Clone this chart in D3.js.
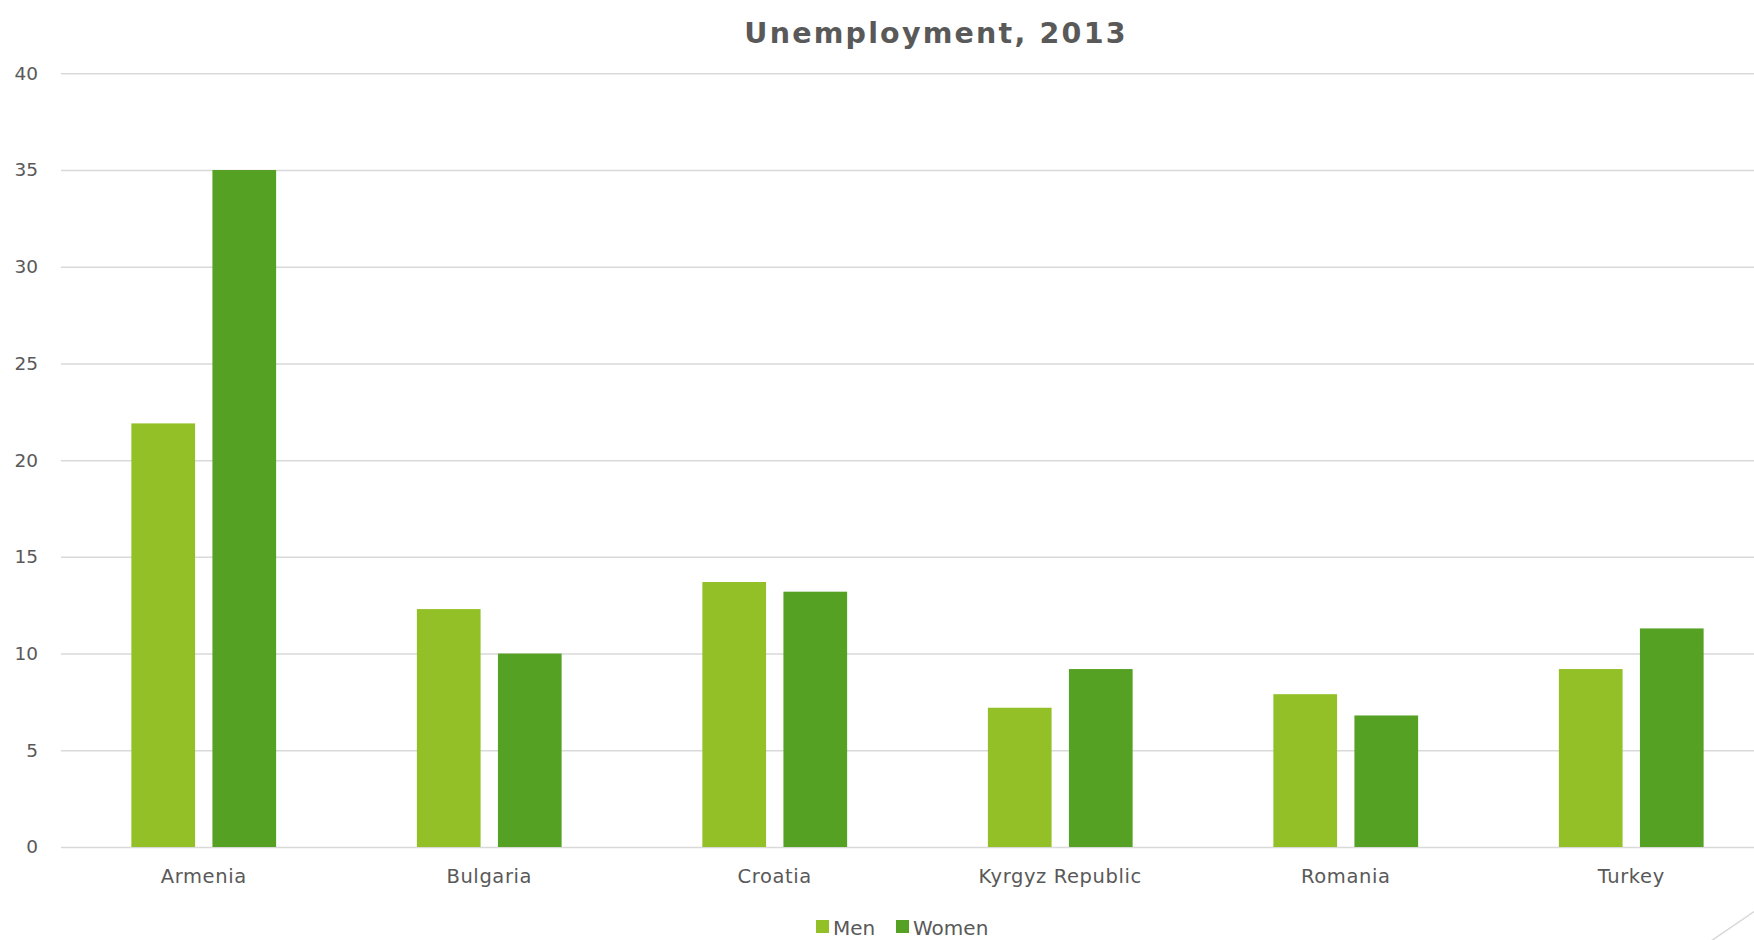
<!DOCTYPE html>
<html>
<head>
<meta charset="utf-8">
<script src="https://cdn.jsdelivr.net/npm/d3@7"></script>
<style>
  html, body { margin: 0; padding: 0; background: #fff; overflow: hidden; }
  svg { display: block; }
  text { font-family: "DejaVu Sans", sans-serif; fill: #595959; }
</style>
</head>
<body>
<svg id="chart" width="1754" height="940"></svg>
<script>
// Unemployment rate (%) by sex, 2013
const countries = ["Armenia", "Bulgaria", "Croatia", "Kyrgyz Republic", "Romania", "Turkey"];
const series = ["Men", "Women"];
const men = [21.9, 12.3, 13.7, 7.2, 7.9, 9.2];
const women = [35.0, 10.0, 13.2, 9.2, 6.8, 11.3];
const yTicks = [0, 5, 10, 15, 20, 25, 30, 35, 40];
const colors = ["#92c026", "#55a123"];
const title = "Unemployment, 2013";

const W = 1754, H = 940;
const plot = { left: 61, right: 1774, top: 73.3, bottom: 847 };

const svg = d3.select("#chart");
svg.append("rect").attr("width", W).attr("height", H).attr("fill", "#fff");

const y = d3.scaleLinear().domain([0, 40]).range([plot.bottom, plot.top]);
const x0 = d3.scaleBand().domain(countries).range([plot.left, plot.right]).padding(0);
const groupW = x0.bandwidth() * 0.507;
const x1 = d3.scaleBand().domain(series).range([0, groupW]).paddingInner(0.214).paddingOuter(0);

// horizontal gridlines
const grid = d3.axisLeft(y).tickValues(yTicks).tickSize(-(W - plot.left)).tickFormat("");
svg.append("g")
  .attr("transform", `translate(${plot.left},0)`)
  .call(grid)
  .call(g => g.select(".domain").remove())
  .call(g => g.selectAll("line").attr("stroke", "#d9d9d9").attr("stroke-width", 1.5));

// y tick labels
svg.append("g")
  .attr("transform", `translate(${plot.left},0)`)
  .call(d3.axisLeft(y).tickValues(yTicks).tickSize(0).tickPadding(23))
  .call(g => g.select(".domain").remove())
  .call(g => g.selectAll("text")
    .attr("font-size", 18.5)
    .attr("fill", "#595959")
    .attr("font-family", "DejaVu Sans, sans-serif"));

// bars
const rows = countries.map((c, i) => ({ country: c, values: [men[i], women[i]] }));
const groups = svg.append("g").selectAll("g")
  .data(rows)
  .join("g")
  .attr("transform", d => `translate(${x0(d.country) + (x0.bandwidth() - groupW) / 2},0)`);

groups.selectAll("rect")
  .data(d => series.map((s, j) => ({ s, v: d.values[j], j })))
  .join("rect")
  .attr("x", d => x1(d.s))
  .attr("width", x1.bandwidth())
  .attr("y", d => y(d.v))
  .attr("height", d => y(0) - y(d.v))
  .attr("fill", d => colors[d.j]);

// category labels
svg.append("g")
  .attr("transform", `translate(0,${plot.bottom})`)
  .call(d3.axisBottom(x0).tickSize(0).tickPadding(22))
  .call(g => g.select(".domain").remove())
  .call(g => g.selectAll("text")
    .attr("font-size", 19.5)
    .attr("fill", "#595959")
    .attr("letter-spacing", 0.6)
    .attr("font-family", "DejaVu Sans, sans-serif"));

// title
svg.append("text")
  .attr("x", 936)
  .attr("y", 43)
  .attr("text-anchor", "middle")
  .attr("font-size", 28.5)
  .attr("font-weight", "bold")
  .attr("letter-spacing", 2.2)
  .text(title);

// legend
const legend = svg.append("g").attr("transform", "translate(816,920)");
const legX = [0, 80];
series.forEach((s, i) => {
  const g = legend.append("g").attr("transform", `translate(${legX[i]},0)`);
  g.append("rect").attr("width", 13).attr("height", 13).attr("fill", colors[i]);
  g.append("text").attr("x", 17).attr("y", 14.5).attr("font-size", 20).text(s);
});

// corner accent stroke
svg.append("line")
  .attr("x1", 1711).attr("y1", 941)
  .attr("x2", 1755).attr("y2", 911)
  .attr("stroke", "#d9d9d9").attr("stroke-width", 1.5);
</script>
</body>
</html>
